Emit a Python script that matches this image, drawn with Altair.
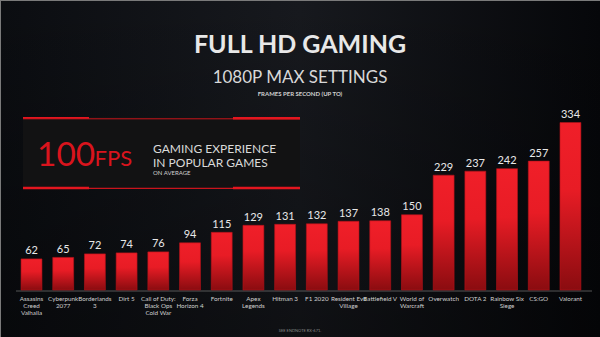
import altair as alt
import pandas as pd

# ---- data ----
games = [
    "Assasins Creed Valhalla", "Cyberpunk 2077", "Borderlands 3", "Dirt 5",
    "Call of Duty: Black Ops Cold War", "Forza Horizon 4", "Fortnite",
    "Apex Legends", "Hitman 3", "F1 2020", "Resident Evil Village",
    "Battlefield V", "World of Warcraft", "Overwatch", "DOTA 2",
    "Rainbow Six Siege", "CS:GO", "Valorant",
]
label_lines = [
    "Assasins\nCreed\nValhalla", "Cyberpunk\n2077", "Borderlands\n3", "Dirt 5",
    "Call of Duty:\nBlack Ops\nCold War", "Forza\nHorizon 4", "Fortnite",
    "Apex\nLegends", "Hitman 3", "F1 2020", "Resident Evil\nVillage",
    "Battlefield V", "World of\nWarcraft", "Overwatch", "DOTA 2",
    "Rainbow Six\nSiege", "CS:GO", "Valorant",
]
fps = [62, 65, 72, 74, 76, 94, 115, 129, 131, 132, 137, 138, 150, 229, 237, 242, 257, 334]

title_text = ["FULL HD GAMING"]
subtitle_text = ["1080P MAX SETTINGS"]
unit_text = ["FRAMES PER SECOND (UP TO)"]
callout_big = ["100"]
callout_unit = ["FPS"]
callout_line1 = ["GAMING EXPERIENCE"]
callout_line2 = ["IN POPULAR GAMES"]
callout_line3 = ["ON AVERAGE"]
footnote = ["SEE ENDNOTE RX-671."]

df = pd.DataFrame({"Game": games, "Label": label_lines, "FPS": fps})
one = pd.DataFrame({"k": [0]})

W, H = 600, 337
FONT = "Lato"

x_scale = alt.Scale(domain=games, range=[15.65, 586.3], paddingInner=0.34, paddingOuter=0.17)
y_scale = alt.Scale(domain=[0, max(fps)], range=[290, 122.5], nice=False, zero=True)
X = alt.X("Game:N", scale=x_scale, sort=games, axis=None)
Y = alt.Y("FPS:Q", scale=y_scale, axis=None)

# ---- background ----
bg = alt.Chart(one).mark_rect(
    fill=alt.Gradient(gradient="linear", x1=0, x2=1, y1=0, y2=0,
                      stops=[alt.GradientStop(offset=0, color="#0b0d11"),
                             alt.GradientStop(offset=0.5, color="#17191e"),
                             alt.GradientStop(offset=1, color="#06070a")])
).encode(x=alt.value(0), x2=alt.value(W), y=alt.value(0), y2=alt.value(H))

bg_shade = alt.Chart(one).mark_rect(
    fill=alt.Gradient(gradient="linear", x1=0, x2=0, y1=0, y2=1,
                      stops=[alt.GradientStop(offset=0, color="rgba(0,0,0,0)"),
                             alt.GradientStop(offset=1, color="rgba(0,0,0,0.35)")])
).encode(x=alt.value(0), x2=alt.value(W), y=alt.value(0), y2=alt.value(H))

border_top = alt.Chart(one).mark_rule(color="#7a7a7a", strokeWidth=1).encode(
    x=alt.value(0), x2=alt.value(W), y=alt.value(0.5))
border_left = alt.Chart(one).mark_rule(color="#7a7a7a", strokeWidth=1).encode(
    x=alt.value(0.5), y=alt.value(0), y2=alt.value(H))

# ---- titles ----
def text_layer(values, x, y, size, color, weight="normal", align="center", font=FONT):
    d = pd.DataFrame({"t": values})
    return alt.Chart(d).mark_text(
        font=font, fontSize=size, color=color, fontWeight=weight,
        align=align, baseline="alphabetic"
    ).encode(x=alt.value(x), y=alt.value(y), text="t:N")

t1 = text_layer(title_text, 300, 53, 25, "#e8e8e8", weight="bold")
t2 = text_layer(subtitle_text, 300, 82.5, 17, "#d8d8d8")
t3 = text_layer(unit_text, 300, 95.5, 6, "#d0d0d0", weight="bold")

# ---- callout box ----
box = alt.Chart(one).mark_rect(color="#121213").encode(
    x=alt.value(23), x2=alt.value(300), y=alt.value(117), y2=alt.value(189))

def seg(x1, x2, y, w, color="#e3161f"):
    return alt.Chart(one).mark_rule(color=color, strokeWidth=w).encode(
        x=alt.value(x1), x2=alt.value(x2), y=alt.value(y))

lines = [
    seg(23, 300, 118.8, 1.0, "#c9141c"),
    seg(23, 89, 117.9, 1.8),
    seg(233, 300, 118.2, 2.4),
    seg(23, 300, 188.3, 1.3, "#c9141c"),
    seg(23, 89, 188.0, 2.6),
    seg(233, 300, 188.0, 2.6),
]

c_big = text_layer(callout_big, 37, 165.5, 33.5, "#d9141d", align="left")
c_unit = text_layer(callout_unit, 94.5, 165.5, 22, "#d9141d", align="left")
c1 = text_layer(callout_line1, 153, 153, 12, "#dadada", align="left")
c2 = text_layer(callout_line2, 153, 166.5, 12, "#dadada", align="left")
c3 = text_layer(callout_line3, 153, 174.5, 6, "#d0d0d0", align="left")

# ---- bars ----
base = alt.Chart(df)
bars = base.mark_bar(
    fill=alt.Gradient(gradient="linear", x1=0, x2=0, y1=0, y2=1,
                      stops=[alt.GradientStop(offset=0, color="#f01f29"),
                             alt.GradientStop(offset=0.4, color="#e81c25"),
                             alt.GradientStop(offset=1, color="#8a0c10")]),
    stroke="#b3121a", strokeWidth=0.6,
).encode(x=X, y=Y)

values = base.mark_text(
    font=FONT, fontSize=11, color="#e8e8e8", baseline="bottom", dy=-2.5
).encode(x=X, y=Y, text="FPS:Q")

labels = base.mark_text(
    font=FONT, fontSize=6.3, color="#cfcfcf", baseline="top", lineBreak="\n", lineHeight=7
).encode(x=X, y=alt.value(295.5), text="Label:N")

baseline = alt.Chart(one).mark_rule(color="#6a6a6a", strokeWidth=0.8).encode(
    x=alt.value(16), x2=alt.value(592), y=alt.value(291))

foot = text_layer(footnote, 300, 332, 4, "#8a8a8a")

chart = alt.layer(
    bg, bg_shade, border_top, border_left,
    t1, t2, t3,
    box, *lines, c_big, c_unit, c1, c2, c3,
    baseline, bars, values, labels, foot,
).properties(
    width=W, height=H, background="#0d0f13", padding=0,
    autosize=alt.AutoSizeParams(type="none"),
).configure_view(stroke=None)

chart.save("out.html", embed_options={"renderer": "svg", "actions": False})
